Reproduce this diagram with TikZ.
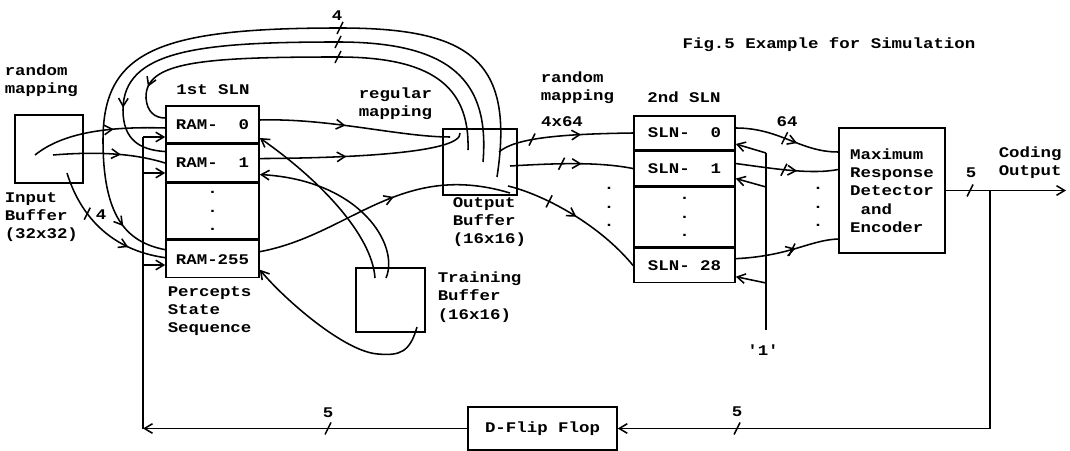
\documentclass[tikz,border=0pt]{standalone}
\usepackage{fontspec}
\usetikzlibrary{positioning,arrows.meta,decorations.markings,calc}
\newfontfamily\figfont[FakeStretch=1.18]{Liberation Mono}
\newcommand{\figtxt}{\figfont\bfseries\fontsize{10.5}{13}\selectfont}

\begin{document}
\begin{tikzpicture}[x=0.025cm,y=-0.025cm,line width=1.1pt,
  >={Straight Barb[length=2mm,width=2.4mm]},
  box/.style={draw,inner sep=0pt},
  ramrow/.style={box,minimum width=2.325cm,minimum height=0.925cm,font=\figtxt},
  slnrow/.style={box,minimum width=2.525cm,minimum height=0.85cm,font=\figtxt},
  lbl/.style={font=\figtxt,inner sep=0pt,align=left},
  midarr/.style={postaction={decorate,decoration={markings,mark=at position #1 with {\arrow{>}}}}},
  pics/bus/.style={code={\draw (-3,6) -- (3,-6);}}]
\useasboundingbox (0,0) rectangle (1070,451);

\node[lbl] (title) at (829,45) {Fig.5 Example for Simulation};

% input buffer
\node[lbl,anchor=west] (rmapA) at (4,81) {random\\mapping};
\node[box,minimum width=1.7cm,minimum height=1.7cm] (inbuf) at (49,149) {};
\node[lbl,anchor=west] (inlbl) at (4,217) {Input\\Buffer\\(32x32)};

% 1st SLN
\node[lbl] (slnA) at (213,90) {1st SLN};
\node[ramrow] (ram0) at (212.5,124.5) {RAM-\hphantom{25}0};
\node[ramrow,below=0pt of ram0] (ram1) {RAM-\hphantom{25}1};
\node[ramrow,below=0pt of ram1,minimum height=1.4cm,align=center] (ramdots) {.\\.\\.};
\node[ramrow,below=0pt of ramdots] (ram255) {RAM-255};
\node[lbl,anchor=west] (pss) at (167,311) {Percepts\\State\\Sequence};

% buffers
\node[box,minimum width=1.85cm,minimum height=1.65cm] (outbuf) at (480,162) {};
\node[lbl,anchor=west] (outlbl) at (452,222) {Output\\Buffer\\(16x16)};
\node[box,minimum width=1.725cm,minimum height=1.6cm] (trbuf) at (390.5,300) {};
\node[lbl,anchor=west] (trlbl) at (437,297) {Training\\Buffer\\(16x16)};
\node[lbl,anchor=west] (regmap) at (358,104) {regular\\mapping};
\node[lbl,anchor=west] (rmapB) at (540,88) {random\\mapping};
\node[lbl] (w464) at (562,122) {4x64};

% 2nd SLN
\node[lbl] (slnB) at (684,97) {2nd SLN};
\node[slnrow] (sln0) at (684.5,133) {SLN- \hphantom{2}0};
\node[slnrow,below=0pt of sln0] (sln1) {SLN- \hphantom{2}1};
\node[slnrow,below=0pt of sln1,minimum height=1.5cm,align=center] (slndots) {.\\.\\.};
\node[slnrow,below=0pt of slndots] (sln28) {SLN- 28};
\node[lbl,align=center] (dotsA) at (609,207) {.\\.\\.};
\node[lbl,align=center] (dotsB) at (818,207) {.\\.\\.};

% detector, output, flip flop
\node[box,font=\figtxt,align=left,minimum width=2.65cm,minimum height=3.125cm] (mrd) at (892,190.5)
  {Maximum\\Response\\Detector\\\hphantom{a}and\\Encoder};
\node[lbl,anchor=west] (codout) at (998,163) {Coding\\Output};
\node[lbl] (one) at (763,350) {'1'};
\node[box,font=\figtxt,minimum width=3.725cm,minimum height=1.075cm] (dff) at (542.5,428.5) {D-Flip Flop};

% free ends
\coordinate (ia) at (35,155);
\coordinate (ib) at (53,155);
\coordinate (ic) at (67,173);
\coordinate (oa) at (450,137);
\coordinate (ob) at (460,133);
\coordinate (oc) at (510,193);
\coordinate (ai) at (468,150);
\coordinate (am) at (483,162);
\coordinate (ao) at (497,177);
\coordinate (rx0) at (499,152);
\coordinate (rx1) at (510,166);
\coordinate (rx28) at (508,186);
\coordinate (ta) at (375,278);
\coordinate (tb) at (386,278);
\coordinate (tc) at (417,327);
\coordinate (outend) at (1066,190.5);
\coordinate (tapR) at (990,190.5);
\coordinate (cornR) at (990,428.5);
\coordinate (cornL) at (143,428.5);
\coordinate (fb0) at (143,137);
\coordinate (fb1) at (143,173);
\coordinate (fb255) at (143,265);
\coordinate (onea) at (766,153);
\coordinate (oneb) at (766,187);
\coordinate (onec) at (766,283);
\coordinate (oneend) at (766,330);

% input buffer to 1st SLN
\draw[midarr=0.62] (ia) .. controls (60,135) and (100,126) .. ($(ram0.west)+(0,3.5)$);
\draw[midarr=0.6] (ib) .. controls (90,152) and (130,152) .. (ram1.west);
\draw[midarr=0.72] (ic) .. controls (80,215) and (110,250) .. ($(ram255.west)+(0,-1.5)$) coordinate[pos=0.35] (busin);
\pic at (busin) {bus};
\node[lbl] (n4a) at (101,215) {4};

% feedback loops over the top
\draw[midarr=0.93] (ao) .. controls (515,60) and (470,28) .. (340,28) coordinate (bo)
  .. controls (160,28) and (103,50) .. (103,140)
  .. controls (103,215) and (125,242) .. ($(ram255.west)+(0,-9.5)$);
\draw[midarr=0.87] (am) .. controls (490,80) and (450,42) .. (338,42) coordinate (bm)
  .. controls (200,42) and (123,50) .. (123,110)
  .. controls (123,140) and (140,150) .. ($(ram1.west)+(0,-11.5)$);
\draw[midarr=0.9] (ai) .. controls (470,85) and (430,57) .. (338,57) coordinate (bi)
  .. controls (200,57) and (145,62) .. (146,98)
  .. controls (147,112) and (155,118) .. ($(ram0.west)+(0,-6.5)$);
\pic at (bo) {bus};
\pic at (bm) {bus};
\pic at (bi) {bus};
\node[lbl] (n4b) at (337,16) {4};

% regular mapping
\draw[midarr=0.45] ($(ram0.east)+(0,-4.5)$) .. controls (330,118) and (400,137) .. (oa);
\draw[midarr=0.42] ($(ram1.east)+(0,-4.5)$) .. controls (360,158) and (462,152) .. (ob);
\draw[midarr=0.55] ($(ram255.east)+(0,-7.5)$) .. controls (350,235) and (400,160) .. (oc);

% training buffer
\draw[->] (ta) .. controls (372,235) and (320,180) .. ($(ram0.east)+(0,13.5)$);
\draw[->] (tb) .. controls (400,245) and (360,180) .. ($(ram1.east)+(0,11.5)$);
\draw[->] (tc) .. controls (410,352) and (400,356) .. (378,354)
  .. controls (345,352) and (285,300) .. ($(ram255.east)+(0,10.5)$);

% random mapping to 2nd SLN
\draw[midarr=0.62] (rx0) .. controls (515,138) and (560,134) .. (sln0.west) coordinate[pos=0.4] (bus0);
\draw[midarr=0.58] (rx1) .. controls (560,163) and (600,162) .. (sln1.west) coordinate[pos=0.37] (bus1);
\draw[midarr=0.5] (rx28) .. controls (545,195) and (600,225) .. (sln28.west) coordinate[pos=0.33] (bus28);
\pic at (bus0) {bus};
\pic at (bus1) {bus};
\pic at (bus28) {bus};

% 2nd SLN to detector
\draw[midarr=0.6] ($(sln0.east)+(0,-5)$) .. controls (780,128) and (800,152) .. ($(mrd.west)+(0,-38.5)$) coordinate[pos=0.45] (busd0);
\draw[midarr=0.6] ($(sln1.east)+(0,-5)$) .. controls (770,168) and (810,175) .. ($(mrd.west)+(0,-21)$) coordinate[pos=0.45] (busd1);
\draw[midarr=0.58] ($(sln28.east)+(0,-7)$) .. controls (790,256) and (810,240) .. ($(mrd.west)+(0,48.5)$) coordinate[pos=0.45] (busd28);
\pic at (busd0) {bus};
\pic at (busd1) {bus};
\pic at (busd28) {bus};
\node[lbl] (n64) at (787,122) {64};

% constant '1'
\draw (oneend) -- (onea);
\draw[->] (onea) -- ($(sln0.east)+(0,11)$);
\draw[->] (oneb) -- ($(sln1.east)+(0,10)$);
\draw[->] (onec) -- ($(sln28.east)+(0,11)$);

% coding output and feedback
\draw[->] (mrd.east) -- (outend);
\pic at (970,190.5) {bus};
\node[lbl] (n5a) at (971,173) {5};
\draw[->] (tapR) -- (cornR) -- (dff.east);
\pic at (737,428.5) {bus};
\node[lbl] (n5b) at (737,412) {5};
\draw[->] (dff.west) -- (cornL);
\pic at (328,428.5) {bus};
\node[lbl] (n5c) at (328,413) {5};
\draw (cornL) -- (fb0);
\draw[->] (fb0) -- (fb0 -| ram0.west);
\draw[->] (fb1) -- (fb1 -| ram1.west);
\draw[->] (fb255) -- (fb255 -| ram255.west);
\end{tikzpicture}
\end{document}
